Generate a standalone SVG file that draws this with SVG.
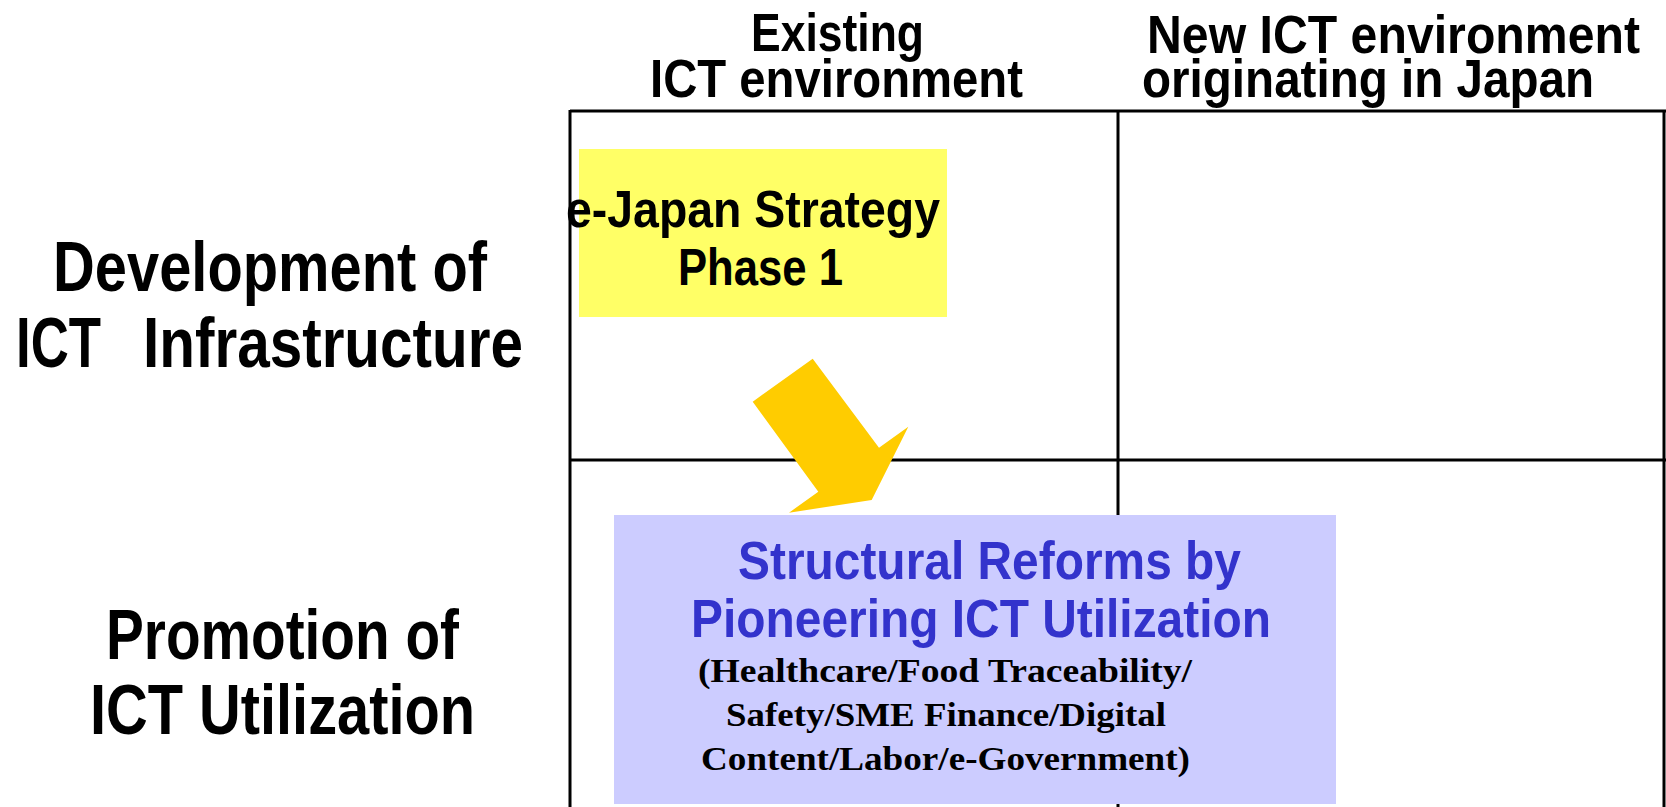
<svg xmlns="http://www.w3.org/2000/svg" width="1666" height="807" viewBox="0 0 1666 807">
<style>
.g{font-family:"Liberation Sans",Arial,sans-serif;font-weight:bold;fill:#000}
.h{font-size:54px}
.l{font-size:71px}
.y{font-size:52px}
.b{font-family:"Liberation Sans",Arial,sans-serif;font-weight:bold;font-size:54px;fill:#3333CC}
.s{font-family:"Liberation Serif","Times New Roman",serif;font-weight:bold;font-size:34px;fill:#000}
.grid{stroke:#000;stroke-width:3;fill:none}
</style>
<rect width="1666" height="807" fill="#fff"/>
<g id="grid" class="grid">
<line x1="570" y1="111" x2="1666" y2="111"/>
<line x1="570" y1="460" x2="1666" y2="460"/>
<line x1="570" y1="110" x2="570" y2="807"/>
<line x1="1118" y1="110" x2="1118" y2="807"/>
<line x1="1664" y1="110" x2="1664" y2="807"/>
</g>
<g id="col-existing">
<text class="g h" x="751" y="51" textLength="173" lengthAdjust="spacingAndGlyphs">Existing</text>
<text class="g h" x="650" y="97" textLength="373" lengthAdjust="spacingAndGlyphs">ICT environment</text>
</g>
<g id="col-new">
<text class="g h" x="1147" y="53" textLength="493" lengthAdjust="spacingAndGlyphs">New ICT environment</text>
<text class="g h" x="1142" y="97" textLength="452" lengthAdjust="spacingAndGlyphs">originating in Japan</text>
</g>
<g id="row-infra">
<text class="g l" x="53" y="291" textLength="434" lengthAdjust="spacingAndGlyphs">Development of</text>
<text class="g l" x="16" y="367" textLength="85" lengthAdjust="spacingAndGlyphs">ICT</text>
<text class="g l" x="143" y="367" textLength="380" lengthAdjust="spacingAndGlyphs">Infrastructure</text>
</g>
<g id="row-util">
<text class="g l" x="106" y="659" textLength="353" lengthAdjust="spacingAndGlyphs">Promotion of</text>
<text class="g l" x="90" y="734" textLength="385" lengthAdjust="spacingAndGlyphs">ICT Utilization</text>
</g>
<g id="ejapan">
<rect x="579" y="149" width="368" height="168" fill="#FFFF66"/>
<text class="g y" x="566" y="227" textLength="374" lengthAdjust="spacingAndGlyphs">e-Japan Strategy</text>
<text class="g y" x="678" y="285" textLength="165" lengthAdjust="spacingAndGlyphs">Phase 1</text>
</g>
<g id="connectors">
<polygon points="812.7,358.7 879,447.7 908.3,426.7 871.7,500 789,512.7 818.3,491.7 752.7,401.7" fill="#FFCC00"/>
</g>
<g id="reforms">
<rect x="614" y="515" width="722" height="289" fill="#CCCCFF"/>
<text class="b" x="738" y="579" textLength="503" lengthAdjust="spacingAndGlyphs">Structural Reforms by</text>
<text class="b" x="691" y="637" textLength="580" lengthAdjust="spacingAndGlyphs">Pioneering ICT Utilization</text>
<text class="s" x="698" y="682" textLength="494" lengthAdjust="spacingAndGlyphs">(Healthcare/Food Traceability/</text>
<text class="s" x="726" y="726" textLength="440" lengthAdjust="spacingAndGlyphs">Safety/SME Finance/Digital</text>
<text class="s" x="701" y="770" textLength="489" lengthAdjust="spacingAndGlyphs">Content/Labor/e-Government)</text>
</g>
</svg>
